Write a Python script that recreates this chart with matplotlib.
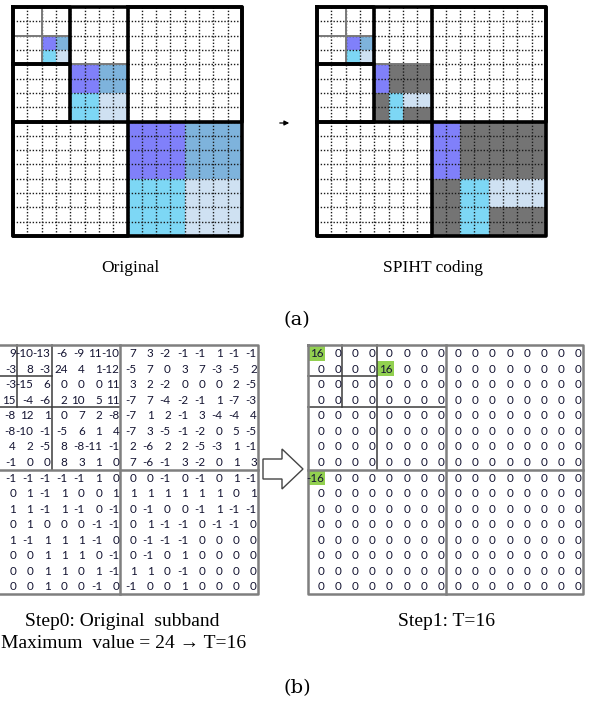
import numpy as np
import matplotlib
matplotlib.use('Agg')
import matplotlib.pyplot as plt
from matplotlib.patches import Rectangle, Polygon

# colour codes of the 16x16 wavelet maps (top row of the figure)
orig_map = [
    "................",
    "................",
    "..ps............",
    "..cl............",
    "....ppss........",
    "....ppss........",
    "....ccll........",
    "....ccll........",
    "........ppppssss",
    "........ppppssss",
    "........ppppssss",
    "........ppppssss",
    "........ccccllll",
    "........ccccllll",
    "........ccccllll",
    "........ccccllll",
]
spiht_map = [
    "................",
    "................",
    "..ps............",
    "..cl............",
    "....pggg........",
    "....pggg........",
    "....gcll........",
    "....gcgg........",
    "........ppgggggg",
    "........ppgggggg",
    "........ppgggggg",
    "........ppgggggg",
    "........ggccllll",
    "........ggccllll",
    "........ggccgggg",
    "........ggccgggg",
]
cell_colors = {'p': '#8080FA', 's': '#7EB3DC', 'c': '#7DD7F5',
               'l': '#CFE1F2', 'g': '#747474'}

# original subband coefficients (first column is cut off in the picture)
subband = np.array([
    [18, 9, -10, -13, -6, -9, 11, -10, 7, 3, -2, -1, -1, 1, -1, -1],
    [5, -3, 8, -3, 24, 4, 1, -12, -5, 7, 0, 3, 7, -3, -5, 2],
    [-4, -3, -15, 6, 0, 0, 0, 11, 3, 2, -2, 0, 0, 0, 2, -5],
    [2, 15, -4, -6, 2, 10, 5, 11, -7, 7, -4, -2, -1, 1, -7, -3],
    [3, -8, 12, 1, 0, 7, 2, -8, -7, 1, 2, -1, 3, -4, -4, 4],
    [-6, -8, -10, -1, -5, 6, 1, 4, -7, 3, -5, -1, -2, 0, 5, -5],
    [1, 4, 2, -5, 8, -8, -11, -1, 2, -6, 2, 2, -5, -3, 1, -1],
    [2, -1, 0, 0, 8, 3, 1, 0, 7, -6, -1, 3, -2, 0, 1, 3],
    [-16, -1, -1, -1, -1, -1, 1, 0, 0, 0, -1, 0, -1, 0, 1, -1],
    [1, 0, 1, -1, 1, 0, 0, 1, 1, 1, 1, 1, 1, 1, 0, 1],
    [0, 1, 1, -1, 1, -1, 0, -1, 0, -1, 0, 0, -1, 1, -1, -1],
    [-1, 0, 1, 0, 0, 0, -1, -1, 0, 1, -1, -1, 0, -1, -1, 0],
    [0, 1, -1, 1, 1, 1, -1, 0, 0, -1, -1, -1, 0, 0, 0, 0],
    [1, 0, 0, 1, 1, 1, 0, -1, 0, -1, 0, 1, 0, 0, 0, 0],
    [0, 0, 0, 1, 1, 0, 1, -1, 1, 1, 0, -1, 0, 0, 0, 0],
    [0, 0, 0, 1, 0, 0, -1, 0, -1, 0, 0, 1, 0, 0, 0, 0],
])
threshold = 16
step1 = np.where(np.abs(subband) >= threshold, np.sign(subband) * threshold, 0)

W, H = 594, 701
fig = plt.figure(figsize=(W / 100, H / 100), dpi=100)


def px_axes(x0, y0, x1, y1):
    ax = fig.add_axes([x0 / W, 1 - y1 / H, (x1 - x0) / W, (y1 - y0) / H])
    ax.set_xlim(0, 16)
    ax.set_ylim(16, 0)
    ax.axis('off')
    return ax


def seg(ax, xs, ys, **kw):
    ax.plot(xs, ys, solid_capstyle='projecting', clip_on=False, **kw)


def draw_map(ax, cmap):
    for r, row in enumerate(cmap):
        for c, code in enumerate(row):
            if code != '.':
                ax.add_patch(Rectangle((c, r), 1, 1, color=cell_colors[code], lw=0))
    for i in range(1, 16):
        seg(ax, [i, i], [0, 16], color='#1a1a1a', lw=1.0, ls=(0, (1, 1.3)))
        seg(ax, [0, 16], [i, i], color='#1a1a1a', lw=1.0, ls=(0, (1, 1.3)))
    grey = dict(color='#7a7a7a', lw=1.4)
    seg(ax, [2, 2], [0, 4], **grey)
    seg(ax, [0, 4], [2, 2], **grey)
    seg(ax, [4, 4], [4, 8], **grey)
    seg(ax, [4, 8], [4, 4], **grey)
    seg(ax, [8, 8], [8, 16], **grey)
    seg(ax, [8, 16], [8, 8], **grey)
    blk = dict(color='black', lw=2.6)
    for (x0, y0, x1, y1) in [(0, 0, 16, 16), (0, 0, 4, 4), (0, 4, 4, 8),
                             (8, 0, 16, 8), (0, 8, 8, 16)]:
        seg(ax, [x0, x1, x1, x0, x0], [y0, y0, y1, y1, y0], **blk)


def draw_matrix(ax, vals, highlight=False):
    for r in range(16):
        for c in range(16):
            # skip cells that fall completely off the left edge of the figure
            if ax.transData.transform((c + 1, 0))[0] <= 1:
                continue
            v = vals[r, c]
            if highlight and v != 0:
                ax.add_patch(Rectangle((c, r), 1, 1, color='#92D050', lw=0))
            ax.text(c + 0.93, r + 0.55, str(v), ha='right', va='center',
                    fontsize=8.4, family='Lato', color='#141432')
    thin = dict(color='#3c3c3c', lw=1.1)
    seg(ax, [2, 2], [0, 4], **thin)
    seg(ax, [0, 4], [2, 2], **thin)
    seg(ax, [4, 4], [0, 8], **thin)
    seg(ax, [0, 8], [4, 4], **thin)
    thick = dict(color='#7f7f7f', lw=1.8)
    seg(ax, [8, 8], [0, 16], **thick)
    seg(ax, [0, 16], [8, 8], **thick)
    seg(ax, [0, 16, 16, 0, 0], [0, 0, 16, 16, 0], **thick)


ax1 = px_axes(13, 7, 242, 236)
draw_map(ax1, orig_map)
ax2 = px_axes(317, 7, 546, 236)
draw_map(ax2, spiht_map)

ax3 = px_axes(-17.2, 345, 258, 594)
draw_matrix(ax3, subband)
ax4 = px_axes(308, 345, 583, 594)
draw_matrix(ax4, step1, highlight=True)

# overlay in pixel coordinates for captions and arrows
ov = fig.add_axes([0, 0, 1, 1])
ov.set_xlim(0, W)
ov.set_ylim(H, 0)
ov.axis('off')

serif = ['Liberation Serif', 'DejaVu Serif']
ov.text(130, 268, 'Original', ha='center', va='center', family=serif, fontsize=12.5)
ov.text(433, 268, 'SPIHT coding', ha='center', va='center', family=serif, fontsize=12.5)
ov.text(297, 320, '(a)', ha='center', va='center', family='DejaVu Serif', fontsize=14)
ov.text(122, 621, 'Step0: Original  subband', ha='center', va='center',
        family=serif, fontsize=14)
ov.text(124, 644, 'Maximum  value = 24 \u2192 T=16', ha='center', va='center',
        family=serif, fontsize=14)
ov.text(447, 621, 'Step1: T=16', ha='center', va='center', family=serif, fontsize=14)
ov.text(297, 688, '(b)', ha='center', va='center', family='DejaVu Serif', fontsize=14)

ov.annotate('', xy=(292, 123), xytext=(277, 123),
            arrowprops=dict(arrowstyle='-|>', color='black', lw=0.9,
                            mutation_scale=7))

block = [(263, 459), (282, 459), (282, 449), (303, 469), (282, 489),
         (282, 479), (263, 479)]
ov.add_patch(Polygon(block, closed=True, facecolor='white',
                     edgecolor='#444444', lw=1.0))

fig.savefig('out.png', dpi=100)
